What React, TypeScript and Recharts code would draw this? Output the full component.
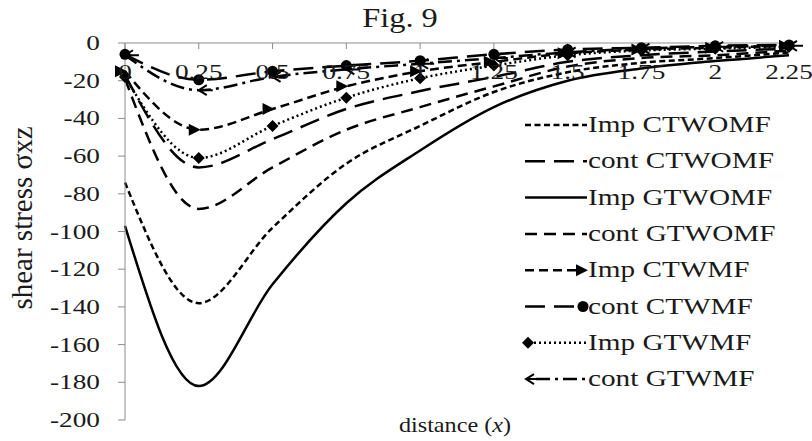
import React from "react";
import { LineChart, Line, XAxis, YAxis, Legend } from "recharts";

// distance (x) sampled every 0.25
const distance = [0, 0.25, 0.5, 0.75, 1, 1.25, 1.5, 1.75, 2, 2.25];

// shear stress values per series
const impCTWOMF = [-74, -138, -98, -64, -44, -26, -15.5, -10.5, -8, -5];
const contCTWOMF = [-17, -66, -51, -35, -25.5, -18, -10, -6.5, -4.5, -3];
const impGTWOMF = [-97, -182, -128, -85, -57, -34, -20, -13.5, -9.6, -6.5];
const contGTWOMF = [-19, -88, -66, -46, -34, -23, -12.5, -8, -6.5, -4];
const impCTWMF = [-15, -46, -35, -23, -15, -10, -5.5, -3.5, -2.5, -1.5];
const contCTWMF = [-6, -19.5, -15, -12, -9.4, -6, -3.5, -2.5, -1.5, -1];
const impGTWMF = [-18, -61, -44, -29, -18.7, -12, -6.5, -4, -3, -2];
const contGTWMF = [-6.5, -25, -18, -14, -11, -8, -5, -3, -2, -1.5];

const xTicks = [0, 0.25, 0.5, 0.75, 1, 1.25, 1.5, 1.75, 2, 2.25];
const yTicks = [0, -20, -40, -60, -80, -100, -120, -140, -160, -180, -200];

const data = distance.map((x, i) => ({
  x,
  impCTWOMF: impCTWOMF[i],
  contCTWOMF: contCTWOMF[i],
  impGTWOMF: impGTWOMF[i],
  contGTWOMF: contGTWOMF[i],
  impCTWMF: impCTWMF[i],
  contCTWMF: contCTWMF[i],
  impGTWMF: impGTWMF[i],
  contGTWMF: contGTWMF[i],
}));

type MarkerKind = "none" | "triangle" | "circle" | "diamond" | "arrow";

const SERIES: { key: string; name: string; dash?: string; marker: MarkerKind }[] = [
  { key: "impCTWOMF", name: "Imp CTWOMF", dash: "6 3.5", marker: "none" },
  { key: "contCTWOMF", name: "cont CTWOMF", dash: "20 9", marker: "none" },
  { key: "impGTWOMF", name: "Imp GTWOMF", marker: "none" },
  { key: "contGTWOMF", name: "cont GTWOMF", dash: "12 7", marker: "none" },
  { key: "impCTWMF", name: "Imp CTWMF", dash: "9 5", marker: "triangle" },
  { key: "contCTWMF", name: "cont CTWMF", dash: "20 9", marker: "circle" },
  { key: "impGTWMF", name: "Imp GTWMF", dash: "2 3", marker: "diamond" },
  { key: "contGTWMF", name: "cont GTWMF", dash: "14 5 3 5", marker: "arrow" },
];

const FONT = "'Liberation Serif', 'Times New Roman', serif";
const STRETCH = 1.3;
const AXIS_GREY = "#8c8c8c";
const INK = "#1a1a1a";

function Marker({ kind, cx, cy }: { kind: MarkerKind; cx: number; cy: number }) {
  if (kind === "circle") return <circle cx={cx} cy={cy} r={5.5} fill="#000" />;
  if (kind === "diamond")
    return <path d={`M${cx} ${cy - 6}L${cx + 6} ${cy}L${cx} ${cy + 6}L${cx - 6} ${cy}Z`} fill="#000" />;
  if (kind === "triangle")
    return <path d={`M${cx + 2} ${cy}L${cx - 10} ${cy - 6}L${cx - 10} ${cy + 6}Z`} fill="#000" />;
  if (kind === "arrow")
    return (
      <path
        d={`M${cx + 8} ${cy - 5}L${cx} ${cy}L${cx + 8} ${cy + 5}M${cx} ${cy}L${cx + 14} ${cy}`}
        stroke="#000"
        strokeWidth={2}
        fill="none"
      />
    );
  return null;
}

const XTick = ({ x, y, payload }: any) => (
  <text
    transform={`translate(${x} ${y + 14}) scale(${STRETCH} 1)`}
    textAnchor="middle"
    fontFamily={FONT}
    fontSize={21}
    fill={INK}
  >
    {String(payload.value)}
  </text>
);

const YTick = ({ x, y, payload }: any) => (
  <text
    transform={`translate(${x} ${y + 7}) scale(${STRETCH} 1)`}
    textAnchor="end"
    fontFamily={FONT}
    fontSize={21}
    fill={INK}
  >
    {String(payload.value)}
  </text>
);

const renderLegend = (props: any) => {
  const payload = [...(props.payload || [])].sort(
    (a: any, b: any) =>
      SERIES.findIndex((s) => s.key === a.dataKey) - SERIES.findIndex((s) => s.key === b.dataKey)
  );
  return (
    <svg width={290} height={300}>
      {payload.map((entry: any, i: number) => {
        const s = SERIES.find((d) => d.key === entry.dataKey) || SERIES[i];
        const cy = 25 + i * 36.3;
        let x1 = 5;
        let x2 = 67;
        if (s.marker === "triangle") x2 = 56;
        if (s.marker === "circle") x2 = 60;
        if (s.marker === "diamond") x1 = 14;
        if (s.marker === "arrow") x1 = 16;
        return (
          <g key={s.key}>
            <line x1={x1} y1={cy} x2={x2} y2={cy} stroke="#000" strokeWidth={2.5} strokeDasharray={s.dash} />
            {s.marker === "triangle" && <Marker kind="triangle" cx={66} cy={cy} />}
            {s.marker === "circle" && <Marker kind="circle" cx={63} cy={cy} />}
            {s.marker === "diamond" && <Marker kind="diamond" cx={8} cy={cy} />}
            {s.marker === "arrow" && <Marker kind="arrow" cx={6} cy={cy} />}
            <text
              transform={`translate(68 ${cy + 7}) scale(${STRETCH} 1)`}
              fontFamily={FONT}
              fontSize={22.5}
              fill={INK}
            >
              {s.name}
            </text>
          </g>
        );
      })}
    </svg>
  );
};

export default function App() {
  return (
    <div style={{ position: "absolute", left: 0, top: 0, width: 812, height: 441, background: "#fff" }}>
      <LineChart width={812} height={441} data={data} margin={{ top: 43, right: 23, bottom: 21, left: 65 }}>
        <XAxis
          dataKey="x"
          type="number"
          domain={[0, 2.25]}
          ticks={xTicks}
          orientation="top"
          mirror
          height={1}
          stroke={AXIS_GREY}
          tickSize={6}
          tickMargin={16}
          tick={<XTick />}
          interval={0}
        />
        <YAxis
          type="number"
          domain={[-200, 0]}
          ticks={yTicks}
          width={60}
          stroke={AXIS_GREY}
          tickSize={7}
          tickMargin={18}
          tick={<YTick />}
          interval={0}
        />
        <Legend
          layout="vertical"
          align="center"
          verticalAlign="middle"
          content={renderLegend}
          wrapperStyle={{ left: 520, top: 100, width: 290, height: 300 }}
        />
        {SERIES.map((s) => (
          <Line
            key={s.key}
            dataKey={s.key}
            name={s.name}
            type="monotone"
            stroke="#000"
            strokeWidth={2.5}
            strokeDasharray={s.dash}
            isAnimationActive={false}
            activeDot={false}
            dot={
              s.marker === "none"
                ? false
                : (p: any) => <Marker key={`${s.key}-${p.index}`} kind={s.marker} cx={p.cx} cy={p.cy} />
            }
          />
        ))}
        <text
          transform={`translate(400 27) scale(1.2 1)`}
          textAnchor="middle"
          fontFamily={FONT}
          fontSize={27}
          fill={INK}
        >
          Fig. 9
        </text>
        <text
          transform={`translate(32 218) rotate(-90)`}
          textAnchor="middle"
          fontFamily={FONT}
          fontSize={29}
          fill={INK}
        >
          shear stress σxz
        </text>
        <text
          transform={`translate(455 432) scale(1.1 1)`}
          textAnchor="middle"
          fontFamily={FONT}
          fontSize={22}
          fill={INK}
        >
          distance (<tspan fontStyle="italic">x</tspan>)
        </text>
      </LineChart>
    </div>
  );
}
